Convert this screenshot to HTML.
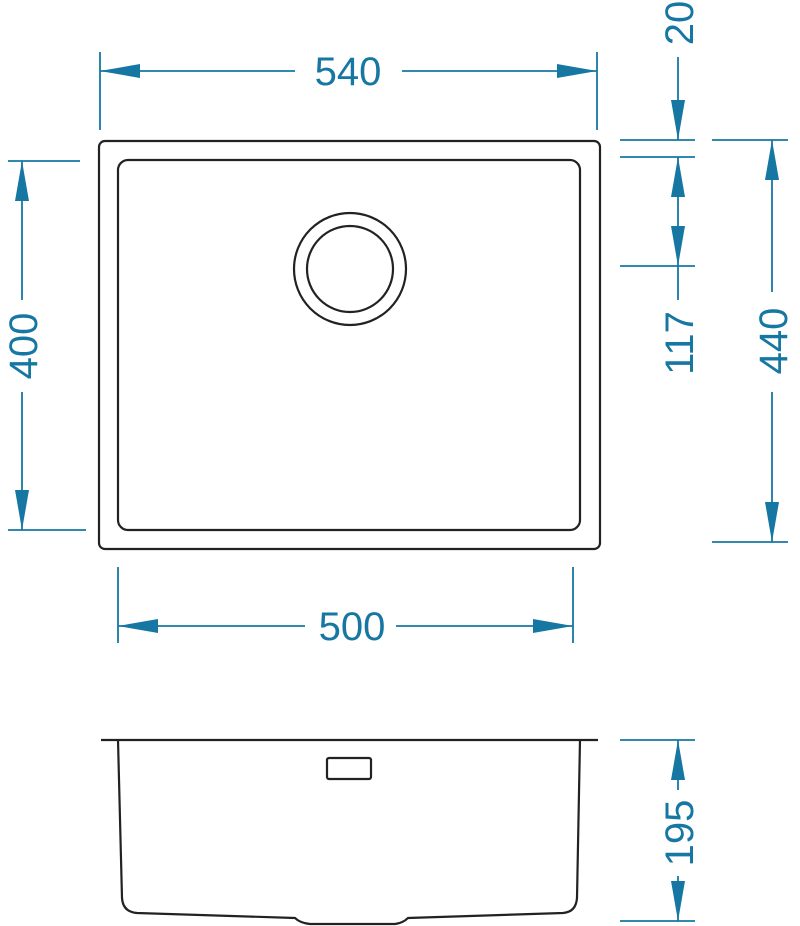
<!DOCTYPE html>
<html><head><meta charset="utf-8"><style>html,body{margin:0;padding:0;background:#fff}svg{display:block}</style></head>
<body>
<svg width="800" height="926" viewBox="0 0 800 926" xmlns="http://www.w3.org/2000/svg">
<defs>
<marker id="a" viewBox="0 0 40 14" refX="40" refY="7" markerWidth="40" markerHeight="14" markerUnits="userSpaceOnUse" orient="auto-start-reverse">
<path d="M0,0 L40,7 L0,14 Z" fill="#1677a3"/></marker>
</defs>
<g fill="none" stroke="#222" stroke-width="2.2">
<rect x="99" y="141" width="501" height="408" rx="6"/>
<rect x="118" y="160" width="462" height="370" rx="10"/>
<circle cx="350" cy="269" r="56"/>
<circle cx="350" cy="269" r="43"/>
<path d="M101,740 H598"/>
<path d="M118,740 L122,898 Q123,912 137,913 L295,918 Q300,923 310,924 L395,924 Q403,923 408,918 L563,913 Q576,912 577,898 L580,740"/>
<rect x="327" y="758" width="44" height="21" rx="2"/>
</g>
<g stroke="#1677a3" stroke-width="1.8" fill="none">
<path d="M100,52 V130 M597,52 V130"/>
<path d="M100,71 H295" marker-start="url(#a)"/>
<path d="M402,71 H597" marker-end="url(#a)"/>
<path d="M8,161 H80 M8,530 H86"/>
<path d="M22,161 V300" marker-start="url(#a)"/>
<path d="M22,392 V530" marker-end="url(#a)"/>
<path d="M118,567 V643 M573,567 V643"/>
<path d="M118,626 H305" marker-start="url(#a)"/>
<path d="M396,626 H573" marker-end="url(#a)"/>
<path d="M620,140 H695 M620,157 H695 M620,266 H695"/>
<path d="M678,57 V140" marker-end="url(#a)"/>
<path d="M678,157 V215" marker-start="url(#a)"/>
<path d="M678,215 V266" marker-end="url(#a)"/>
<path d="M678,266 V300"/>
<path d="M712,140 H788 M712,542 H788"/>
<path d="M772,140 V292" marker-start="url(#a)"/>
<path d="M772,392 V542" marker-end="url(#a)"/>
<path d="M620,740 H695 M620,921 H695"/>
<path d="M678,740 V790" marker-start="url(#a)"/>
<path d="M678,876 V921" marker-end="url(#a)"/>
</g>
<g fill="#1677a3" font-family="Liberation Sans, sans-serif" font-size="40" text-anchor="middle">
<text x="348" y="85">540</text>
<text x="352" y="640">500</text>
<text transform="translate(37,346) rotate(-90)">400</text>
<text transform="translate(693,23) rotate(-90)">20</text>
<text transform="translate(693,343) rotate(-90)">117</text>
<text transform="translate(787,341) rotate(-90)">440</text>
<text transform="translate(693,833) rotate(-90)">195</text>
</g>
</svg>
</body></html>
